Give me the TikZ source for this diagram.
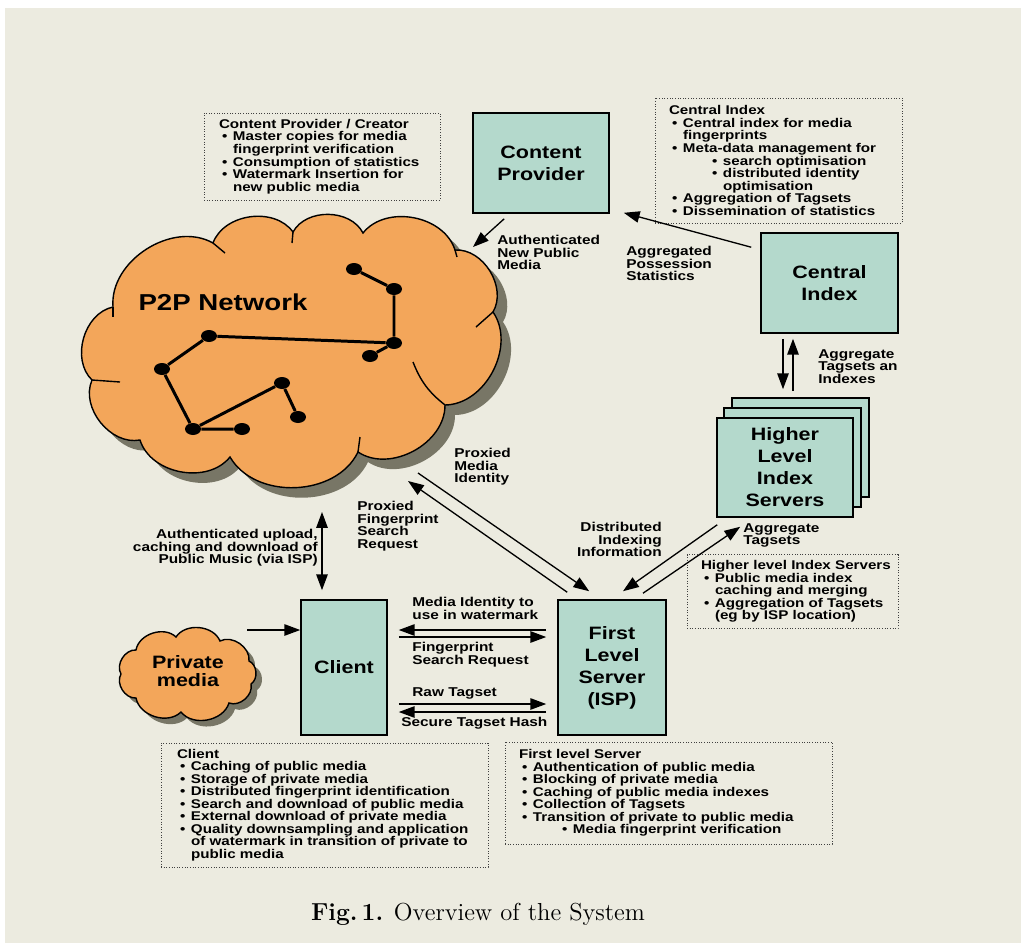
\documentclass[tikz,border=0pt]{standalone}
\usepackage{fontspec}
\usepackage{tikz}
\usetikzlibrary{arrows.meta,shapes.geometric,positioning}

\newfontfamily\helv{Liberation Sans}[FakeStretch=1.2]

\definecolor{paper}{RGB}{236,235,224}
\definecolor{mint}{RGB}{180,217,204}
\definecolor{peach}{RGB}{243,166,90}
\definecolor{cloudshadow}{RGB}{120,118,102}

\newlength{\pix}
\setlength{\pix}{0.02cm}

% bullets for the note boxes
\newcommand{\bitem}{\makebox[14\pix][l]{\hspace{3\pix}\textbullet}}
\newcommand{\bcont}{\hspace*{14\pix}}
\newcommand{\bsub}{\hspace*{43\pix}\makebox[11\pix][l]{\textbullet}}
\newcommand{\bsubcont}{\hspace*{54\pix}}

% outlines of the two clouds
\newcommand{\pnetcloud}{(113,307) to[puff] (213,243) to[puff] (293,232)
  to[puff] (363,233) to[puff] (455,250) to[puff] (493,312) to[puff] (445,405)
  to[puff] (358,452) to[puff] (230,457) to[puff] (140,440) to[puff] (92,380)
  to[puff] (113,307) -- cycle}
\newcommand{\privcloud}{(121,674) to[puff] (136,650) to[puff] (176,637)
  to[puff] (220,641) to[puff] (249,661) to[puff] (251,684) to[puff] (229,703)
  to[puff] (181,712) to[puff] (136,698) to[puff] (121,674) -- cycle}

\begin{document}
\begin{tikzpicture}[
    x=0.02cm, y=-0.02cm,
    puff/.style={bend left=62},
    server/.style={rectangle, draw, line width=0.9pt, fill=mint, align=center, inner sep=0pt,
      font=\helv\bfseries\fontsize{10.2}{12.5}\selectfont},
    note/.style={rectangle, draw=black!75, densely dotted, line width=0.5pt, align=left,
      font=\helv\bfseries\fontsize{7.2}{7.15}\selectfont},
    lbl/.style={inner sep=0pt, align=left, font=\helv\bfseries\fontsize{7.3}{7.1}\selectfont},
    peer/.style={ellipse, fill=black, inner sep=0pt, minimum width=16\pix, minimum height=12\pix},
    link/.style={line width=1.7pt},
    flow/.style={line width=0.75pt, -{Triangle[length=9pt,width=6.5pt]}},
    flowboth/.style={line width=0.75pt, {Triangle[length=9pt,width=6.5pt]}-{Triangle[length=9pt,width=6.5pt]}}
  ]
    \useasboundingbox (0,0) rectangle (1029,948);
    \fill[white] (0,0) rectangle (1029,948);
    \fill[paper] (5,8) rectangle (1021,943);

    % Clouds
    \fill[cloudshadow, shift={(10,10)}] \pnetcloud;
    \filldraw[fill=peach, draw=black, line width=0.8pt] \pnetcloud;
    \foreach \ax/\ay/\bx/\by in {113/307/113/317, 213/243/225/253, 293/232/292/243,
        455/250/457/257, 493/312/476/327, 358/452/360/437, 92/380/120/382}
      \draw[line width=0.8pt] (\ax,\ay) -- (\bx,\by);
    \draw[line width=0.8pt] (445,405) to[bend left=15] (413,362);
    \node[font=\helv\bfseries\fontsize{13.1}{15}\selectfont] (p2p) at (223,302) {P2P Network};

    \fill[cloudshadow, shift={(6,6)}] \privcloud;
    \filldraw[fill=peach, draw=black, line width=0.8pt] \privcloud;
    \node[align=center, font=\helv\bfseries\fontsize{10.2}{10}\selectfont] (priv) at (188,671) {Private\\media};

    % Peers in the network
    \node[peer] (peer1) at (354,269) {};
    \node[peer] (peer2) at (394,289) {};
    \node[peer] (peer3) at (394,343) {};
    \node[peer] (peer4) at (370,356) {};
    \node[peer] (peer5) at (209,336) {};
    \node[peer] (peer6) at (162,369) {};
    \node[peer] (peer7) at (193,429) {};
    \node[peer] (peer8) at (242,429) {};
    \node[peer] (peer9) at (282,383) {};
    \node[peer] (peer10) at (298,417) {};
    \draw[link] (peer1) -- (peer2) -- (peer3) -- (peer4);
    \draw[link] (peer3) -- (peer5) -- (peer6) -- (peer7) -- (peer8);
    \draw[link] (peer7) -- (peer9) -- (peer10);

    % Servers
    \node[server, minimum width=136\pix, minimum height=100\pix] (cp) at (541,163) {Content\\Provider};
    \node[server, minimum width=137\pix, minimum height=100\pix] (ci) at (829.5,283) {Central\\Index};
    \node[server, minimum width=137\pix, minimum height=99\pix] (hlback) at (800.5,447.5) {};
    \node[server, minimum width=137\pix, minimum height=99\pix] (hlmid) at (792.5,457.5) {};
    \node[server, minimum width=136\pix, minimum height=99\pix] (hl) at (785,467.5) {Higher\\Level\\Index\\Servers};
    \node[server, minimum width=108\pix, minimum height=135\pix] (fls) at (612,667.5) {First\\Level\\Server\\(ISP)};
    \node[server, minimum width=86\pix, minimum height=135\pix] (cl) at (344,667.5) {Client};

    % Notes
    \node[note, text width=206\pix, inner xsep=15\pix, minimum height=87\pix] (cpnote) at (322,156.5) {%
      Content Provider / Creator\\
      \bitem Master copies for media\\
      \bcont fingerprint verification\\
      \bitem Consumption of statistics\\
      \bitem Watermark Insertion for\\
      \bcont new public media};
    \node[note, text width=219\pix, inner xsep=14\pix, minimum height=125\pix] (cinote) at (778.5,160.5) {%
      Central Index\\
      \bitem Central index for media\\
      \bcont fingerprints\\
      \bitem Meta-data management for\\
      \bsub search optimisation\\
      \bsub distributed identity\\
      \bsubcont optimisation\\
      \bitem Aggregation of Tagsets\\
      \bitem Dissemination of statistics};
    \node[note, text width=183\pix, inner xsep=14\pix, minimum height=73\pix] (hlnote) at (792.5,591.5) {%
      \mbox{Higher level Index Servers}\\
      \bitem Public media index\\
      \bcont caching and merging\\
      \bitem Aggregation of Tagsets\\
      \bcont (eg by ISP location)};
    \node[note, text width=295\pix, inner xsep=16\pix, minimum height=124\pix] (clnote) at (324.5,805) {%
      Client\\
      \bitem Caching of public media\\
      \bitem Storage of private media\\
      \bitem Distributed fingerprint identification\\
      \bitem Search and download of public media\\
      \bitem External download of private media\\
      \bitem Quality downsampling and application\\
      \bcont of watermark in transition of private to\\
      \bcont public media};
    \node[note, text width=299\pix, inner xsep=14\pix, minimum height=102\pix] (flsnote) at (668.5,793) {%
      First level Server\\
      \bitem Authentication of public media\\
      \bitem Blocking of private media\\
      \bitem Caching of public media indexes\\
      \bitem Collection of Tagsets\\
      \bitem Transition of private to public media\\
      \bsub Media fingerprint verification};

    % Free ends at the clouds
    \coordinate (cpin) at (473,247);
    \coordinate (p2pout) at (418,473);
    \coordinate (p2pin) at (408,481);
    \coordinate (p2pdown) at (322,512);
    \coordinate (pmout) at (247,630);

    % Connections
    \draw[flow] ([shift={(32,5)}]cp.south west) -- (cpin);
    \draw[flow] ([shift={(-9,15)}]ci.north west) -- ([shift={(14,-1)}]cp.south east);
    \draw[flow] ([shift={(-46.5,5)}]ci.south) -- ([shift={(-17.5,-8)}]hlback.north);
    \draw[flow] ([shift={(-7.5,-6)}]hlback.north) -- ([shift={(-36.5,5)}]ci.south);
    \draw[flow] (p2pout) -- ([shift={(32,-8)}]fls.north west);
    \draw[flow] ([shift={(10,-7)}]fls.north west) -- (p2pin);
    \draw[flow] ([shift={(1,7)}]hl.south west) -- ([shift={(11,-8)}]fls.north);
    \draw[flow] ([shift={(31,-6)}]fls.north) -- ([shift={(24,9)}]hl.south west);
    \draw[flowboth] (p2pdown) -- ([shift={(-22,-9)}]cl.north);
    \draw[flow] (pmout) -- ([shift={(0,-37.5)}]cl.west);
    \draw[flow] ([shift={(-11,-37.5)}]fls.west) -- ([shift={(11,-37.5)}]cl.east);
    \draw[flow] ([shift={(11,-30.5)}]cl.east) -- ([shift={(-11,-30.5)}]fls.west);
    \draw[flow] ([shift={(11,36.5)}]cl.east) -- ([shift={(-11,36.5)}]fls.west);
    \draw[flow] ([shift={(-11,44.5)}]fls.west) -- ([shift={(11,44.5)}]cl.east);

    % Labels
    \node[lbl, anchor=north west] (lauth) at (497,235) {Authenticated\\New Public\\Media};
    \node[lbl, anchor=north west] (lstats) at (626,246) {Aggregated\\Possession\\Statistics};
    \node[lbl, anchor=north west] (ltagidx) at (818,349) {Aggregate\\Tagsets an\\Indexes};
    \node[lbl, anchor=north west] (lpmi) at (454,448) {Proxied\\Media\\Identity};
    \node[lbl, anchor=north west] (lpfsr) at (357,501) {Proxied\\Fingerprint\\Search\\Request};
    \node[lbl, anchor=north east, align=right] (ldii) at (662,522) {Distributed\\Indexing\\Information};
    \node[lbl, anchor=north west] (ltags) at (743,523) {Aggregate\\Tagsets};
    \node[lbl, anchor=north east, align=right] (lupload) at (318,529) {Authenticated upload,\\caching and download of\\Public Music (via ISP)};
    \node[lbl, anchor=north west] (lmiw) at (412,597) {Media Identity to\\use in watermark};
    \node[lbl, anchor=north west] (lfsr) at (412,642) {Fingerprint\\Search Request};
    \node[lbl, anchor=north west] (lraw) at (412,687) {Raw Tagset};
    \node[lbl, anchor=north west] (lhash) at (401,717) {Secure Tagset Hash};

    \node[font=\fontsize{14}{16}\selectfont] (caption) at (478,914) {\textbf{Fig.\,1.} Overview of the System};
\end{tikzpicture}
\end{document}
